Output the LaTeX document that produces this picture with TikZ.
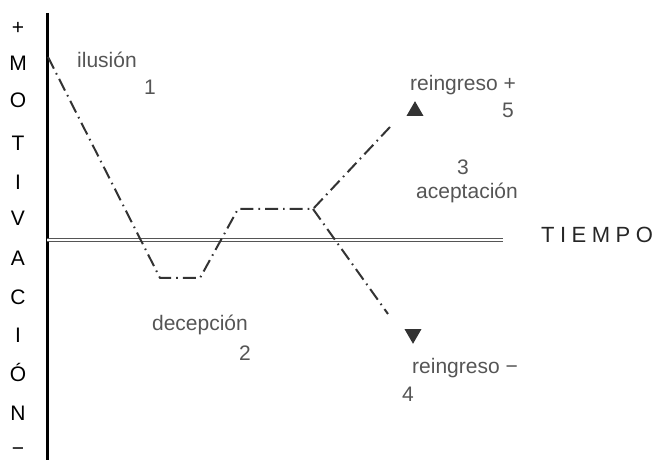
\documentclass[tikz,border=0pt]{standalone}
\usepackage{fontspec}
\setmainfont{Liberation Sans}
\usetikzlibrary{shapes.geometric}
\definecolor{labelgray}{HTML}{555555}
\definecolor{linegray}{HTML}{333333}

\begin{document}
\begin{tikzpicture}[x=0.5pt, y=-0.5pt,
  axislbl/.style={font=\fontsize{10.5}{12}\selectfont, text=black, inner sep=0pt},
  lbl/.style={font=\fontsize{10.5}{12}\selectfont, text=labelgray, inner sep=0pt},
  curve/.style={line width=1pt, linegray, line join=round, dash pattern=on 6.5pt off 2.5pt on 0.8pt off 2.5pt},
  tri/.style={regular polygon, regular polygon sides=3, fill=linegray, draw=none, minimum size=9.8pt, inner sep=0pt}
]
  \useasboundingbox (0,0) rectangle (655,460);
  % ejes
  \coordinate (ytop) at (47,13);
  \coordinate (ybot) at (47,460);
  \coordinate (xleft) at (47,240);
  \coordinate (xright) at (503,240);
  \draw[line width=1.5pt] (ytop) -- (ybot);
  \draw[line width=0.6pt, labelgray, double, double distance=1.2pt] (xleft) -- (xright);
  \foreach \ch/\yy in {+/28, M/63, O/100, T/143, I/182, V/218, A/258, C/297, I/335, Ó/372, N/413, −/452}
    \node[axislbl] at (18,\yy) {\ch};
  \node[font=\fontsize{11}{13}\selectfont, text=black!85, inner sep=0pt] (tiempo) at (597,235)
    {T\hspace{0.25em}I\hspace{0.25em}E\hspace{0.25em}M\hspace{0.25em}P\hspace{0.25em}O};
  % curva
  \coordinate (c0) at (48,57);
  \coordinate (c1) at (160,278);
  \coordinate (c2) at (200,278);
  \coordinate (c3) at (238,209);
  \coordinate (c4) at (313,209);
  \coordinate (cup) at (390,127);
  \coordinate (cdown) at (388,314);
  \draw[curve] (c0) -- (c1) -- (c2) -- (c3) -- (c4) -- (cup);
  \draw[curve] (c4) -- (cdown);
  \node[tri] (up) at (415,111) {};
  \node[tri, shape border rotate=180] (down) at (413,334) {};
  % etiquetas
  \node[lbl] (ilusion) at (107,60) {ilusión};
  \node[lbl] (n1) at (150,87) {1};
  \node[lbl] (decepcion) at (200,325) {decepción};
  \node[lbl] (n2) at (245,353) {2};
  \node[lbl] (reingp) at (463,85) {reingreso +};
  \node[lbl] (n5) at (508,110) {5};
  \node[lbl] (n3) at (463,167) {3};
  \node[lbl] (acept) at (467,193) {aceptación};
  \node[lbl] (reingm) at (465,368) {reingreso −};
  \node[lbl] (n4) at (408,394) {4};
\end{tikzpicture}
\end{document}
